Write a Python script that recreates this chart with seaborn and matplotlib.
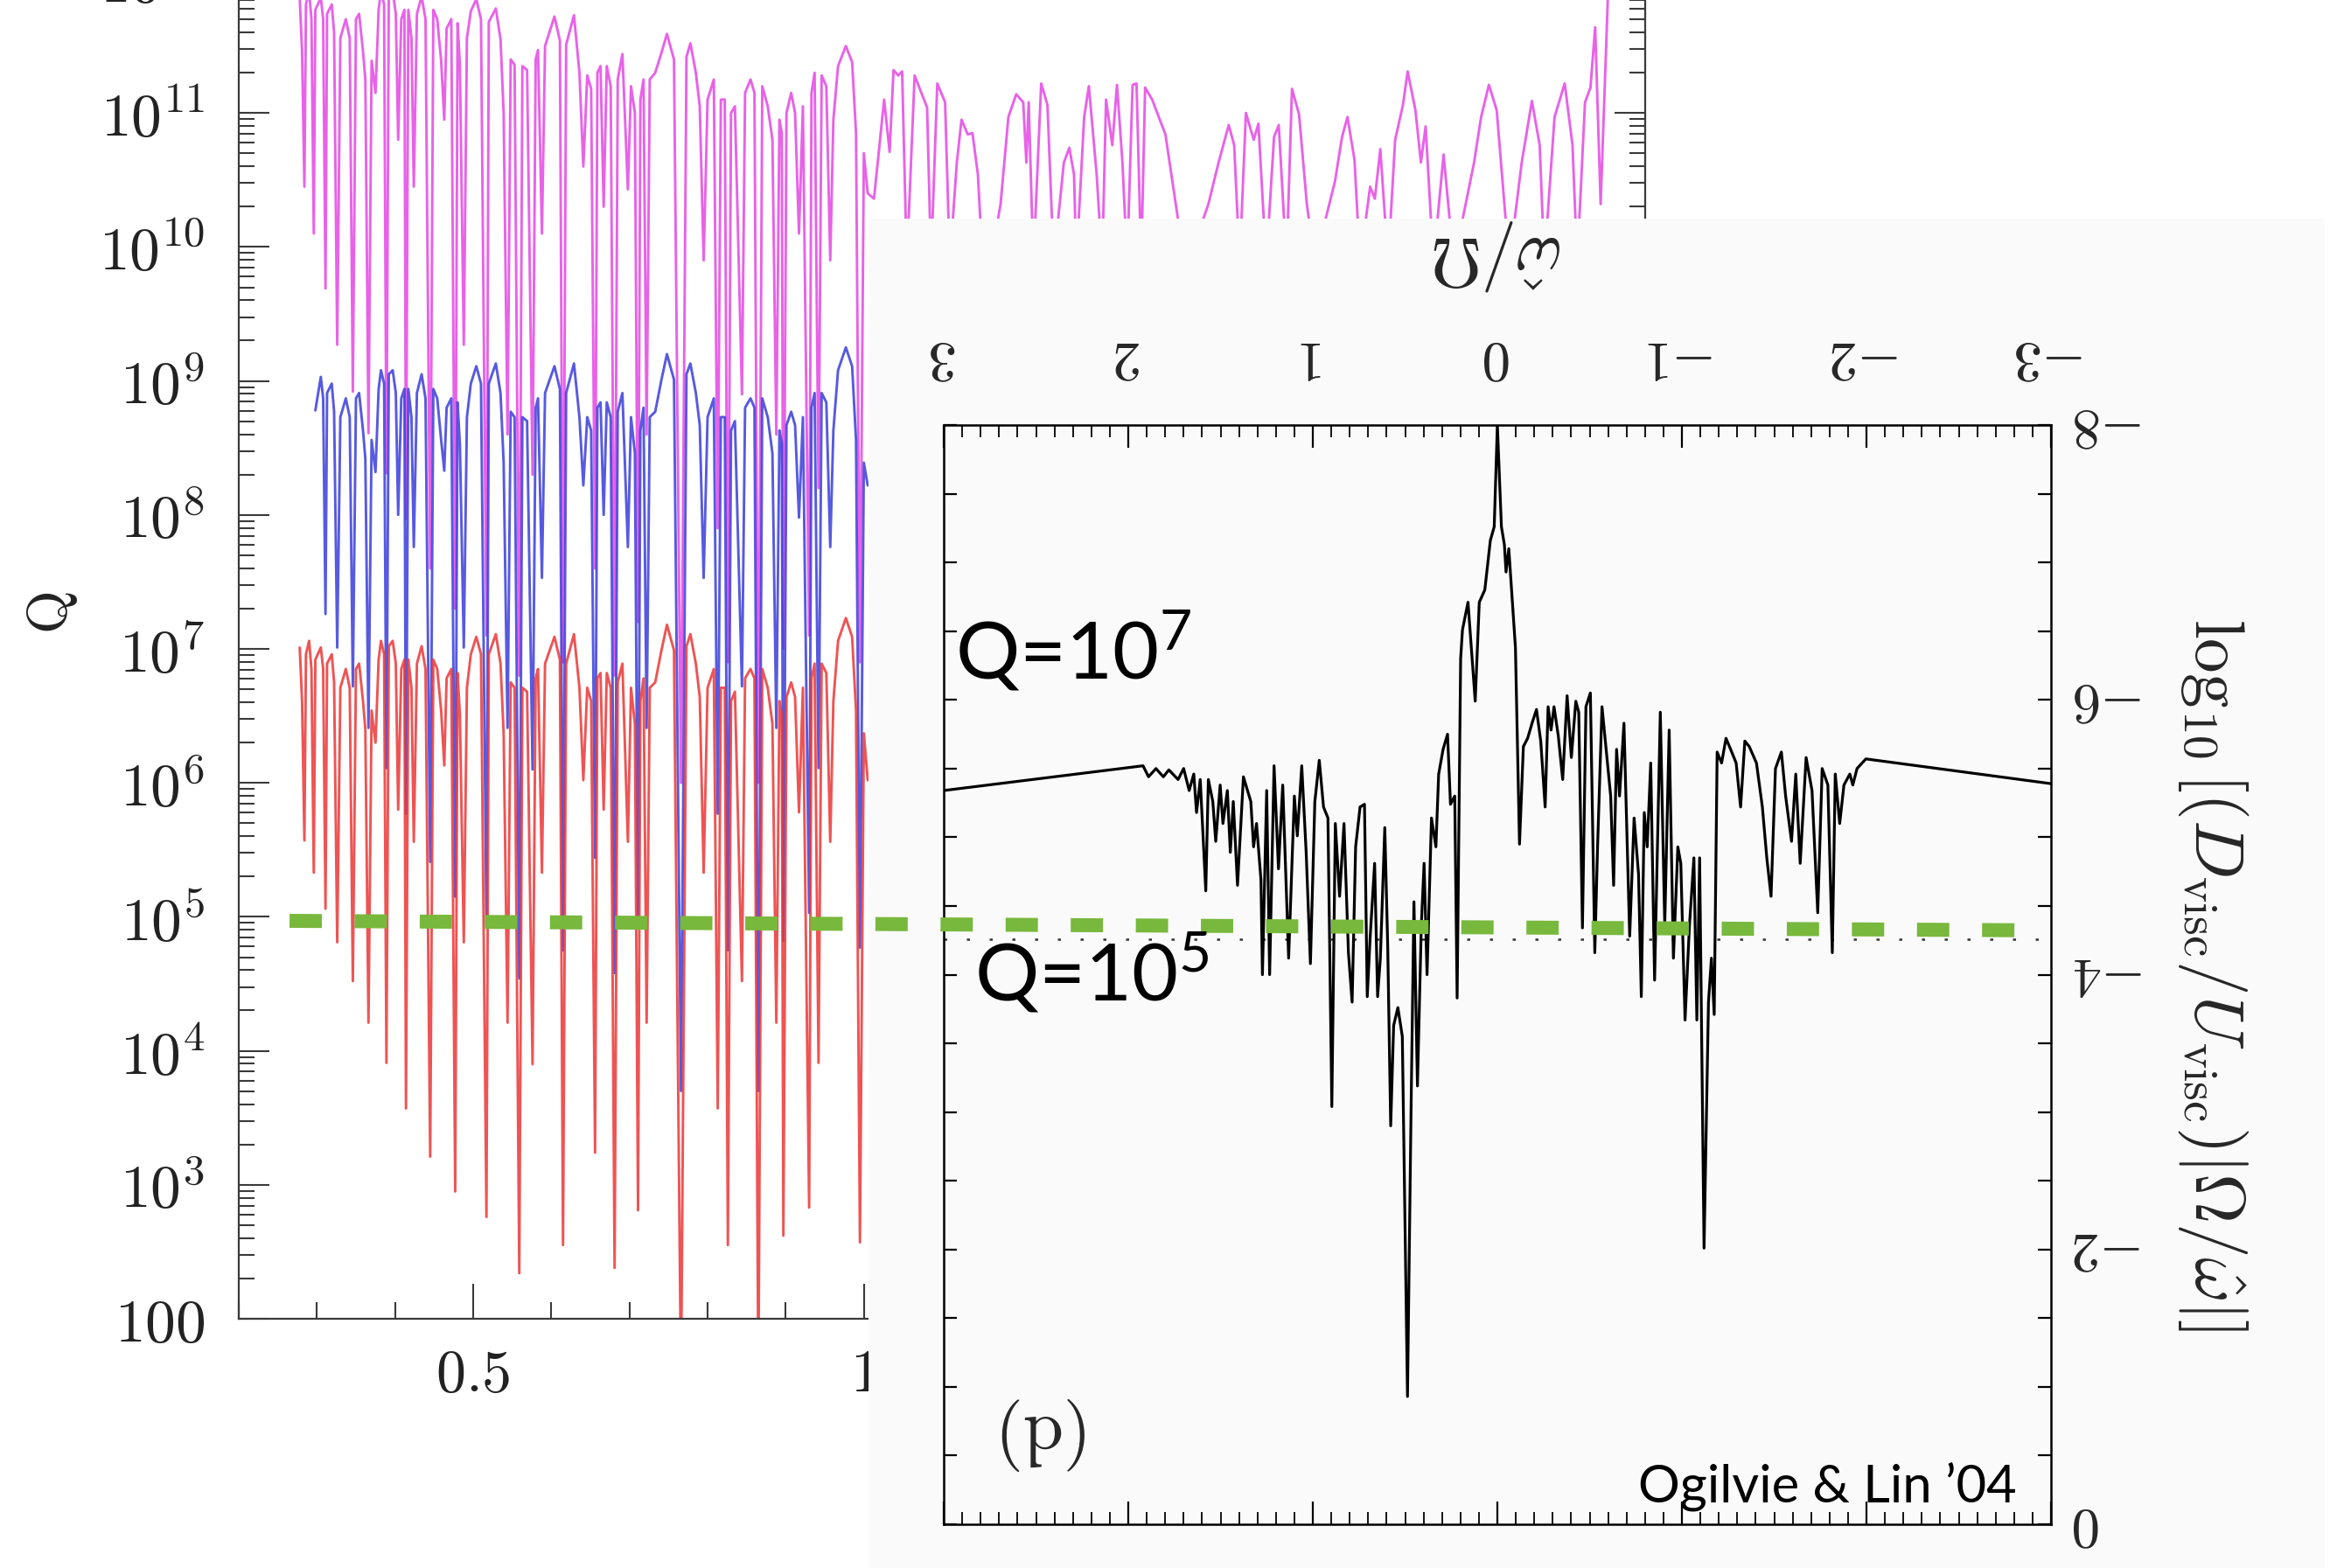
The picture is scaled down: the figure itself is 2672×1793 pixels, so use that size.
import numpy as np
import pandas as pd
import matplotlib
matplotlib.use("Agg")
import matplotlib.pyplot as plt
import seaborn as sns
from matplotlib.ticker import (FixedLocator, FuncFormatter, LogLocator,
                               MultipleLocator, NullFormatter)

# ---------------------------------------------------------------------------
# Left panel: tidal quality factor Q versus forcing frequency (log10 Q values)
# ---------------------------------------------------------------------------
x_freq = [
    0.278, 0.281, 0.284, 0.286, 0.290, 0.293, 0.296, 0.298, 0.305, 0.308,
    0.311, 0.313, 0.319, 0.322, 0.326, 0.330, 0.337, 0.342, 0.346, 0.350,
    0.354, 0.359, 0.362, 0.366, 0.370, 0.375, 0.379, 0.382, 0.386, 0.389,
    0.392, 0.397, 0.401, 0.404, 0.408, 0.412, 0.414, 0.417, 0.421, 0.424,
    0.428, 0.434, 0.439, 0.445, 0.449, 0.454, 0.459, 0.463, 0.466, 0.472,
    0.477, 0.480, 0.483, 0.488, 0.492, 0.497, 0.504, 0.510, 0.517, 0.520,
    0.529, 0.535, 0.539, 0.544, 0.548, 0.553, 0.559, 0.563, 0.569, 0.576,
    0.580, 0.583, 0.588, 0.592, 0.604, 0.611, 0.615, 0.619, 0.629, 0.636,
    0.641, 0.646, 0.651, 0.656, 0.659, 0.663, 0.667, 0.671, 0.676, 0.681,
    0.685, 0.691, 0.698, 0.702, 0.707, 0.711, 0.714, 0.718, 0.722, 0.726,
    0.733, 0.741, 0.748, 0.757, 0.766, 0.773, 0.778, 0.785, 0.790, 0.795,
    0.800, 0.808, 0.813, 0.817, 0.822, 0.826, 0.830, 0.835, 0.844, 0.848,
    0.855, 0.860, 0.865, 0.870, 0.877, 0.883, 0.888, 0.892, 0.895, 0.897,
    0.901, 0.907, 0.912, 0.917, 0.922, 0.930, 0.933, 0.937, 0.942, 0.946,
    0.952, 0.957, 0.961, 0.967, 0.977, 0.985, 0.990, 0.995, 1.000, 1.005,
]

logq_red = [
    7.01, 6.61, 5.57, 6.96, 7.06, 6.85, 5.33, 6.92, 7.01, 6.85,
    5.06, 6.89, 6.96, 6.75, 4.81, 6.71, 6.85, 6.71, 4.52, 6.85,
    6.89, 6.61, 6.40, 4.21, 6.54, 6.30, 6.92, 7.06, 6.96, 3.91,
    7.02, 7.06, 6.89, 5.80, 6.85, 6.92, 3.57, 6.92, 6.71, 5.56,
    6.89, 7.02, 6.85, 3.21, 6.92, 6.85, 6.54, 6.13, 6.78, 6.85,
    2.95, 6.82, 6.51, 4.81, 6.71, 6.96, 7.09, 6.96, 2.76, 6.96,
    7.11, 6.89, 6.37, 4.21, 6.75, 6.71, 2.34, 6.71, 6.68, 3.90,
    6.78, 6.85, 5.33, 6.89, 7.09, 6.92, 2.55, 6.89, 7.11, 6.71,
    6.02, 6.71, 6.61, 3.24, 6.78, 6.82, 5.80, 6.82, 6.71, 2.38,
    6.75, 6.89, 5.56, 6.71, 6.44, 2.81, 6.61, 6.78, 4.21, 6.71,
    6.75, 6.99, 7.18, 6.99, 1.50, 7.02, 7.11, 6.89, 6.64, 5.33,
    6.71, 6.85, 3.57, 6.71, 6.71, 2.55, 6.61, 6.68, 4.52, 6.78,
    6.85, 6.78, 1.50, 6.85, 6.71, 6.44, 4.21, 6.61, 6.51, 2.62,
    6.64, 6.75, 6.64, 5.78, 6.71, 2.83, 6.78, 6.89, 3.91, 6.89,
    6.82, 5.56, 6.61, 7.06, 7.23, 7.09, 6.54, 2.57, 6.37, 6.02,
]

nan = np.nan
logq_blue = [
    nan, nan, nan, nan, nan, nan, nan, 8.78, 9.03, 8.87,
    7.26, 8.91, 8.98, 8.77, 7.01, 8.73, 8.87, 8.73, 6.72, 8.87,
    8.91, 8.63, 8.42, 6.41, 8.56, 8.32, 8.94, 9.08, 8.98, 6.11,
    9.05, 9.08, 8.91, 8.00, 8.87, 8.94, 5.77, 8.94, 8.73, 7.76,
    8.91, 9.05, 8.87, 5.41, 8.94, 8.87, 8.56, 8.33, 8.80, 8.87,
    5.15, 8.84, 8.53, 7.01, 8.73, 8.98, 9.11, 8.98, 4.96, 8.98,
    9.13, 8.91, 8.39, 6.41, 8.77, 8.73, 4.54, 8.73, 8.70, 6.10,
    8.80, 8.87, 7.53, 8.91, 9.11, 8.94, 4.75, 8.91, 9.13, 8.73,
    8.22, 8.73, 8.63, 5.44, 8.80, 8.84, 8.00, 8.84, 8.73, 4.58,
    8.77, 8.91, 7.76, 8.73, 8.46, 5.01, 8.63, 8.80, 6.41, 8.73,
    8.77, 9.01, 9.20, 9.01, 3.70, 9.05, 9.13, 8.91, 8.67, 7.53,
    8.73, 8.87, 5.77, 8.73, 8.73, 4.75, 8.63, 8.70, 6.72, 8.80,
    8.87, 8.80, 3.70, 8.87, 8.73, 8.46, 6.41, 8.63, 8.53, 4.82,
    8.67, 8.77, 8.67, 7.98, 8.73, 5.03, 8.80, 8.91, 6.11, 8.91,
    8.84, 7.76, 8.63, 9.08, 9.25, 9.11, 8.56, 4.77, 8.39, 8.22,
]

logq_magenta = [
    11.86, 11.46, 10.45, 11.81, 11.91, 11.70, 10.10, 11.77, 11.86, 11.70,
    9.69, 11.74, 11.81, 11.60, 9.27, 11.56, 11.70, 11.56, 8.92, 11.70,
    11.74, 11.46, 11.25, 8.61, 11.39, 11.15, 11.77, 11.91, 11.81, 8.31,
    11.87, 11.91, 11.74, 10.80, 11.70, 11.77, 7.97, 11.77, 11.56, 10.45,
    11.74, 11.87, 11.70, 7.60, 11.77, 11.70, 11.39, 10.95, 11.63, 11.70,
    7.30, 11.67, 11.36, 9.27, 11.56, 11.76, 11.85, 11.70, 7.10, 11.68,
    11.78, 11.55, 11.00, 8.60, 11.40, 11.36, 6.80, 11.35, 11.32, 8.30,
    11.40, 11.47, 10.10, 11.50, 11.72, 11.54, 6.90, 11.51, 11.73, 11.30,
    10.60, 11.28, 11.18, 7.60, 11.30, 11.35, 10.30, 11.35, 11.20, 6.80,
    11.25, 11.44, 10.43, 11.20, 11.00, 7.20, 11.10, 11.25, 8.60, 11.25,
    11.30, 11.45, 11.59, 11.40, 6.00, 11.42, 11.52, 11.30, 11.05, 9.90,
    11.10, 11.25, 7.90, 11.10, 11.10, 6.90, 11.00, 11.05, 8.90, 11.15,
    11.25, 11.15, 6.00, 11.20, 11.05, 10.80, 8.60, 10.95, 10.85, 7.00,
    11.00, 11.15, 11.00, 10.10, 11.05, 7.10, 11.15, 11.30, 8.20, 11.28,
    11.20, 9.90, 10.95, 11.35, 11.50, 11.38, 10.85, 6.90, 10.70, 10.40,
]

# the magenta run continues to higher frequency
x_freq_high = [
    1.013, 1.026, 1.033, 1.038, 1.044, 1.049, 1.055, 1.065, 1.071, 1.081,
    1.086, 1.094, 1.104, 1.110, 1.119, 1.125, 1.133, 1.139, 1.146, 1.152,
    1.162, 1.175, 1.185, 1.195, 1.204, 1.208, 1.211, 1.217, 1.227, 1.235,
    1.243, 1.256, 1.263, 1.269, 1.272, 1.282, 1.288, 1.298, 1.305, 1.310,
    1.318, 1.324, 1.331, 1.337, 1.344, 1.349, 1.355, 1.360, 1.369, 1.386,
    1.402, 1.415, 1.441, 1.454, 1.467, 1.474, 1.481, 1.489, 1.499, 1.505,
    1.515, 1.525, 1.531, 1.541, 1.548, 1.557, 1.567, 1.577, 1.603, 1.612,
    1.619, 1.628, 1.635, 1.648, 1.654, 1.661, 1.671, 1.680, 1.690, 1.696,
    1.706, 1.713, 1.719, 1.729, 1.742, 1.755, 1.781, 1.790, 1.800, 1.810,
    1.826, 1.842, 1.855, 1.865, 1.871, 1.884, 1.897, 1.907, 1.913, 1.923,
    1.930, 1.936, 1.943, 1.952, 1.956,
]
logq_magenta_high = [
    10.36, 11.10, 10.71, 11.32, 11.28, 11.31, 9.88, 11.28, 11.19, 11.04,
    9.88, 11.22, 11.08, 9.88, 10.63, 10.95, 10.84, 10.85, 10.54, 9.88,
    9.88, 10.32, 10.97, 11.14, 11.08, 10.63, 11.08, 9.88, 11.22, 11.06,
    9.88, 10.63, 10.74, 10.54, 9.88, 10.97, 11.20, 10.54, 9.88, 11.10,
    10.76, 11.21, 10.63, 9.88, 11.21, 11.22, 9.88, 11.19, 11.10, 10.84,
    10.21, 9.88, 10.32, 10.63, 10.91, 10.76, 9.88, 11.00, 10.80, 10.92,
    9.88, 10.82, 10.91, 9.88, 11.18, 10.99, 10.32, 9.88, 10.49, 10.82,
    10.97, 10.65, 9.88, 10.45, 10.36, 10.73, 9.88, 10.80, 11.06, 11.31,
    11.02, 10.63, 10.90, 9.88, 10.69, 9.88, 10.63, 10.97, 11.21, 11.02,
    9.88, 10.63, 11.09, 10.76, 9.88, 10.97, 11.22, 10.76, 9.88, 11.08,
    11.19, 11.64, 10.32, 11.84, 12.06,
]

q_ticks = [10.0 ** k for k in range(2, 14)]

# reference level Q = 1e5 marked across both panels
guide_x = [0.265, 2.473]
guide_logq = [4.97, 4.90]

# ---------------------------------------------------------------------------
# Right panel: log10[(D_visc/U_visc)|Omega/omega_hat|] versus omega_hat/Omega
# ---------------------------------------------------------------------------
omega_hat = [
    3.00, 1.92, 1.89, 1.85, 1.81, 1.78, 1.73, 1.70, 1.67, 1.645,
    1.63, 1.61, 1.58, 1.566, 1.542, 1.526, 1.502, 1.487, 1.463, 1.447,
    1.431, 1.408, 1.376, 1.336, 1.321, 1.305, 1.281, 1.273, 1.25, 1.234,
    1.21, 1.186, 1.163, 1.131, 1.10, 1.084, 1.06, 1.036, 1.013, 0.989,
    0.965, 0.942, 0.918, 0.897, 0.878, 0.855, 0.831, 0.807, 0.787, 0.768,
    0.744, 0.720, 0.705, 0.689, 0.665, 0.649, 0.634, 0.610, 0.594, 0.578,
    0.562, 0.539, 0.515, 0.487, 0.468, 0.452, 0.433, 0.412, 0.397, 0.381,
    0.357, 0.333, 0.318, 0.294, 0.270, 0.254, 0.231, 0.218, 0.199, 0.189,
    0.159, 0.120, 0.098, 0.068, 0.038, 0.017, 0.000, -0.022, -0.038, -0.047,
    -0.062, -0.098, -0.120, -0.141, -0.164, -0.188, -0.212, -0.235, -0.259, -0.275,
    -0.291, -0.307, -0.330, -0.354, -0.378, -0.401, -0.425, -0.441, -0.461, -0.480,
    -0.504, -0.528, -0.543, -0.567, -0.591, -0.614, -0.630, -0.646, -0.662, -0.686,
    -0.717, -0.741, -0.765, -0.780, -0.796, -0.812, -0.831, -0.852, -0.883, -0.907,
    -0.931, -0.954, -0.978, -0.994, -1.017, -1.041, -1.065, -1.081, -1.096, -1.120,
    -1.144, -1.160, -1.175, -1.191, -1.215, -1.239, -1.270, -1.294, -1.318, -1.341,
    -1.365, -1.404, -1.436, -1.460, -1.483, -1.507, -1.539, -1.562, -1.594, -1.617,
    -1.641, -1.673, -1.705, -1.736, -1.760, -1.791, -1.815, -1.831, -1.855, -1.878,
    -1.910, -1.926, -1.949, -1.997, -3.00,
]
log_dissipation = [
    -5.34, -5.52, -5.44, -5.50, -5.44, -5.49, -5.42, -5.50, -5.34, -5.46,
    -5.18, -5.42, -4.61, -5.42, -5.26, -4.97, -5.38, -5.10, -5.34, -4.89,
    -5.26, -4.65, -5.44, -5.26, -4.93, -5.10, -4.69, -4.00, -5.34, -4.00,
    -5.52, -4.77, -5.38, -4.12, -5.30, -5.01, -5.52, -4.89, -4.08, -5.26,
    -5.56, -5.22, -5.14, -3.04, -5.10, -4.57, -5.10, -4.16, -3.80, -4.93,
    -5.22, -5.24, -3.84, -4.28, -4.81, -3.84, -4.12, -5.07, -4.20, -2.90,
    -3.63, -3.76, -3.55, -0.93, -2.98, -4.53, -3.19, -4.36, -4.81, -4.00,
    -5.14, -4.93, -5.46, -5.64, -5.75, -5.24, -5.30, -3.83, -6.30, -6.51,
    -6.71, -5.99, -6.71, -6.80, -7.16, -7.26, -8.00, -7.26, -7.13, -6.93,
    -7.10, -6.38, -4.95, -5.66, -5.72, -5.83, -5.93, -5.70, -5.22, -5.95,
    -5.78, -5.95, -5.74, -5.42, -6.03, -5.58, -5.99, -5.91, -4.34, -5.95,
    -6.05, -4.16, -4.93, -5.95, -5.62, -5.30, -4.65, -5.64, -5.30, -5.83,
    -4.28, -5.14, -4.73, -3.84, -5.18, -4.93, -5.54, -3.96, -5.91, -4.36,
    -5.78, -4.12, -4.93, -4.81, -3.67, -4.36, -4.85, -3.67, -4.85, -2.01,
    -3.80, -4.12, -3.71, -5.62, -5.54, -5.72, -5.62, -5.54, -5.22, -5.70,
    -5.66, -5.54, -5.22, -4.85, -4.57, -5.50, -5.62, -5.30, -4.97, -5.46,
    -4.81, -5.58, -5.34, -4.45, -5.50, -5.38, -4.16, -5.46, -5.10, -5.38,
    -5.46, -5.38, -5.50, -5.57, -5.39,
]
threshold_level = -4.26

# ---------------------------------------------------------------------------
sns.set_style("white")
plt.rcParams["font.family"] = ["Lato", "DejaVu Sans"]
plt.rcParams["mathtext.fontset"] = "cm"
plt.rcParams["mathtext.rm"] = "Lato"
plt.rcParams["mathtext.it"] = "Lato:italic"
plt.rcParams["mathtext.bf"] = "Lato:bold"

W, H = 2672, 1793
fig = plt.figure(figsize=(W / 100, H / 100), dpi=100)
fig.patch.set_facecolor("white")

MAGENTA = "#e447e4"
BLUE = "#3a3ddb"
RED = "#ec3636"
AX_COL = "#3a3a3a"

# ---- left panel -----------------------------------------------------------
q_pos = [273 / W, (H - 1508) / H, 1608 / W, 11 * 153.2 / H]
ax_q = fig.add_axes(q_pos, zorder=1)
ax_q.set_facecolor("white")

df_mag = pd.DataFrame({"x": x_freq + x_freq_high,
                       "Q": 10.0 ** np.array(logq_magenta + logq_magenta_high)})
df_blue = pd.DataFrame({"x": x_freq, "Q": 10.0 ** np.array(logq_blue)}).dropna()
df_red = pd.DataFrame({"x": x_freq, "Q": 10.0 ** np.array(logq_red)})

for df, col in [(df_mag, MAGENTA), (df_blue, BLUE), (df_red, RED)]:
    sns.lineplot(data=df, x="x", y="Q", ax=ax_q, sort=False, estimator=None,
                 color=col, lw=2.1, alpha=0.85)

ax_q.set_yscale("log")
ax_q.set_xlim(0.2, 2.0)
ax_q.set_ylim(1e2, 1e13)
ax_q.yaxis.set_major_locator(FixedLocator(q_ticks))
ax_q.yaxis.set_minor_locator(LogLocator(base=10, subs=np.arange(2, 10), numticks=40))
ax_q.yaxis.set_major_formatter(FuncFormatter(
    lambda v, p: r"$100$" if v < 150 else r"$10^{%d}$" % round(np.log10(v))))
ax_q.yaxis.set_minor_formatter(NullFormatter())
ax_q.xaxis.set_major_locator(MultipleLocator(0.5))
ax_q.xaxis.set_minor_locator(MultipleLocator(0.1))
ax_q.xaxis.set_major_formatter(FuncFormatter(lambda v, p: r"$%g$" % v))
ax_q.tick_params(which="both", direction="in", left=True, right=True,
                 bottom=True, top=True, color=AX_COL, width=1.5)
ax_q.tick_params(axis="y", which="major", length=25, labelsize=50, pad=28,
                 labelcolor="#222")
ax_q.tick_params(axis="y", which="minor", length=13)
ax_q.tick_params(axis="x", which="major", length=29, labelsize=49, pad=24,
                 labelcolor="#222")
ax_q.tick_params(axis="x", which="minor", length=14)
for s in ax_q.spines.values():
    s.set_color(AX_COL)
    s.set_linewidth(1.6)
ax_q.set_xlabel("")
ax_q.set_ylabel(r"$\mathrm{Q}$", fontsize=46, color="#222", rotation=90,
                va="center", ha="center")
ax_q.yaxis.set_label_coords(-0.1325, 0.479)

# ---- right panel (printed upside down) ------------------------------------
ax_bg = fig.add_axes([993 / W, 0, 1665 / W, 1543 / H], zorder=2)
ax_bg.set_facecolor("#fafafa")
ax_bg.set_xticks([])
ax_bg.set_yticks([])
for s in ax_bg.spines.values():
    s.set_visible(False)

ax_r = fig.add_axes([1079 / W, (H - 1743) / H, 1266 / W, 1257 / H], zorder=3)
ax_r.set_facecolor("none")
ax_r.axhline(threshold_level, color="#333", lw=1.8, ls=(0, (1.4, 9)))
sns.lineplot(x=omega_hat, y=log_dissipation, ax=ax_r, sort=False,
             estimator=None, color="black", lw=2.3)
ax_r.set_xlim(3, -3)
ax_r.set_ylim(0, -8)
ax_r.xaxis.set_major_locator(MultipleLocator(1))
ax_r.xaxis.set_minor_locator(MultipleLocator(0.1))
ax_r.yaxis.set_major_locator(MultipleLocator(2))
ax_r.yaxis.set_minor_locator(MultipleLocator(0.5))
ax_r.xaxis.set_major_formatter(FuncFormatter(lambda v, p: r"$%d$" % round(v)))
ax_r.yaxis.set_major_formatter(FuncFormatter(lambda v, p: r"$%d$" % round(v)))
ax_r.tick_params(axis="x", which="both", direction="in", top=True, bottom=True,
                 labeltop=True, labelbottom=False, labelrotation=180,
                 color="black")
ax_r.tick_params(axis="x", which="major", length=19, width=1.6, labelsize=47,
                 pad=34)
ax_r.tick_params(axis="x", which="minor", length=10, width=1.3)
ax_r.tick_params(axis="y", which="both", direction="in", left=True, right=True,
                 labelleft=False, labelright=True, labelrotation=180,
                 length=11, width=1.6, labelsize=47, pad=18, color="black")
for lbl in ax_r.get_yticklabels():
    lbl.set_va("center")
for s in ax_r.spines.values():
    s.set_color("black")
    s.set_linewidth(1.8)

ax_r.set_xlabel(r"$\hat{\omega}/\Omega$", fontsize=58, rotation=180,
                ha="center", va="center")
ax_r.xaxis.set_label_position("top")
ax_r.xaxis.set_label_coords(0.5, 1.1377)
ax_r.set_ylabel(r"$\log_{10}[(D_{\rm visc}/U_{\rm visc})|\Omega/\hat{\omega}|]$",
                fontsize=57, rotation=270, ha="center", va="center")
ax_r.yaxis.set_label_position("right")
ax_r.yaxis.set_label_coords(1.18, 0.50)
ax_r.text(0.0932, 0.082, r"$\mathrm{(d)}$", transform=ax_r.transAxes,
          rotation=180, ha="center", va="center", fontsize=60)

# ---- overlay: Q = 1e5 guide across both panels ----------------------------
ax_ov = fig.add_axes(q_pos, zorder=5)
ax_ov.set_yscale("log")
ax_ov.set_xlim(0.2, 2.0)
ax_ov.set_ylim(1e2, 1e13)
ax_ov.set_axis_off()
ax_ov.plot(guide_x, 10.0 ** np.array(guide_logq), color="#78b83c", lw=11.5,
           ls=(0, (2.31, 2.35)), dash_capstyle="butt", clip_on=False)

# ---- annotations -----------------------------------------------------------
fig.text(1092 / W, 1 - 776 / H, r"Q=10$^7$", fontsize=66, ha="left",
         va="baseline", color="black", math_fontfamily="custom", zorder=10)
fig.text(1114 / W, 1 - 1144 / H, r"Q=10$^5$", fontsize=66, ha="left",
         va="baseline", color="black", math_fontfamily="custom", zorder=10)
fig.text(1873 / W, 1 - 1718 / H, "Ogilvie & Lin \u201904", fontsize=43,
         ha="left", va="baseline", color="black", zorder=10)

fig.savefig("out.png", dpi=100, facecolor="white")
